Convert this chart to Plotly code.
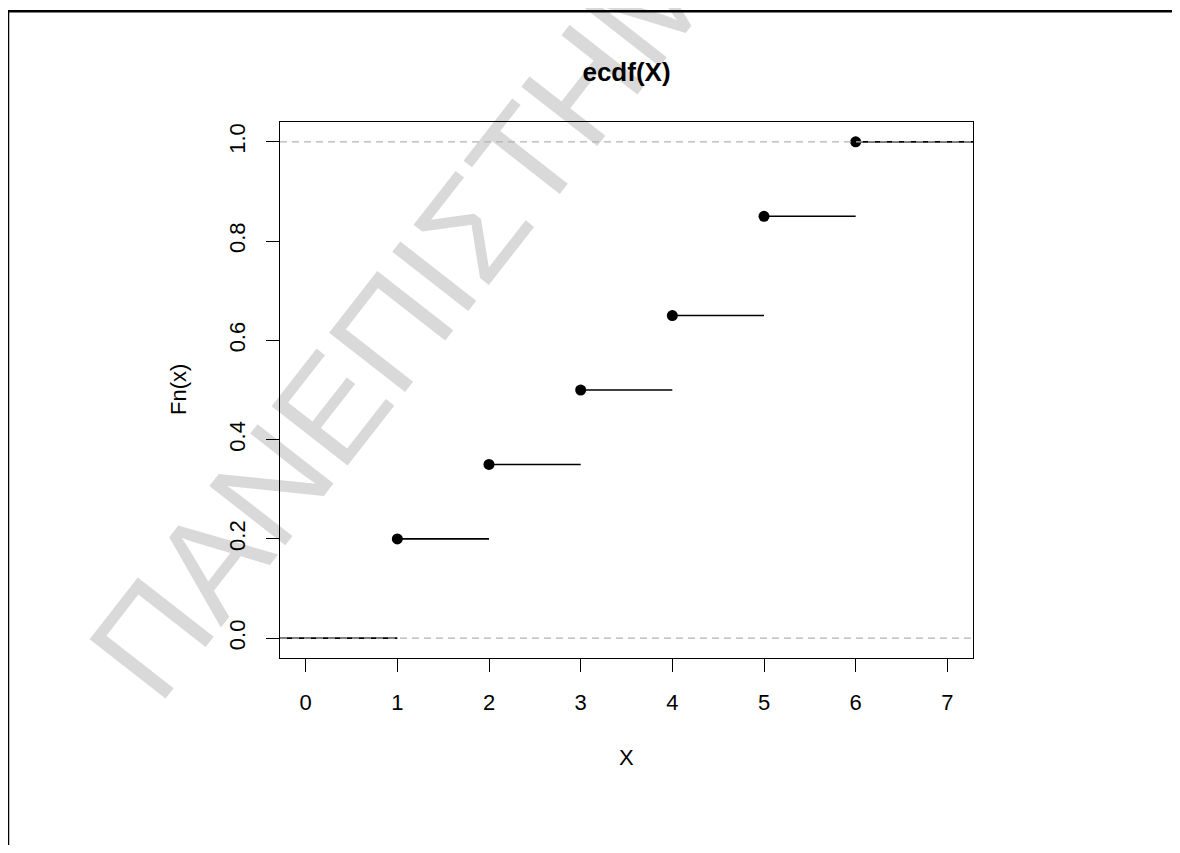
import numpy as np
import plotly.graph_objects as go

# ---- data ----
knots = [1, 2, 3, 4, 5, 6]
fn_values = [0.20, 0.35, 0.50, 0.65, 0.85, 1.00]
x_ticks = [0, 1, 2, 3, 4, 5, 6, 7]
y_ticks = [0.0, 0.2, 0.4, 0.6, 0.8, 1.0]
y_tick_labels = ["0.0", "0.2", "0.4", "0.6", "0.8", "1.0"]
title_text = "ecdf(X)"
x_label = "X"
y_label = "Fn(x)"
watermark_text = "ΠΑΝΕΠΙΣΤΗΜΙΟ ΠΕΙΡΑΙΩΣ"

# ---- R-like limits (plot.stepfun) ----
rx = [min(knots), max(knots)]
dr = max(0.08 * (rx[1] - rx[0]), float(np.median(np.diff(knots))))
xlim = [rx[0] - dr, rx[1] + dr]
ext = 0.04 * (xlim[1] - xlim[0])
xrange = [xlim[0] - ext, xlim[1] + ext]
yrange = [0 - 0.04, 1 + 0.04]

# step segments
ti = [xlim[0] - dr] + knots + [xlim[1] + dr]
yi = [0.0] + fn_values
seg_x, seg_y = [], []
for i in range(len(yi)):
    seg_x += [ti[i], ti[i + 1], None]
    seg_y += [yi[i], yi[i], None]

# page has an 8px body margin: figure is drawn offset by it
OFF = 8
W, H = 1180 - 2 * OFF, 853 - 2 * OFF
ML = 280 - OFF
MT = 122 - OFF
MR = W - (973 - OFF)
MB = H - (658 - OFF)
PW, PH = W - ML - MR, H - MT - MB

def px2paper(px, py):
    """screen pixel (reference coords) -> paper coords"""
    return (px - OFF - ML) / PW, (H - MB - (py - OFF)) / PH

FONT = "Liberation Sans, Arial, sans-serif"

fig = go.Figure()
fig.add_trace(go.Scatter(x=seg_x, y=seg_y, mode="lines",
                         line=dict(color="black", width=1.6),
                         hoverinfo="skip", showlegend=False))
fig.add_trace(go.Scatter(x=knots, y=fn_values, mode="markers",
                         marker=dict(color="black", size=11),
                         showlegend=False))

shapes = []
for yv in (0, 1):
    shapes.append(dict(type="line", xref="x domain", yref="y", x0=0, x1=1,
                       y0=yv, y1=yv, layer="above",
                       line=dict(color="#b3b3b3", width=1.3, dash="7px,5px")))

# outer frame (top and left edges visible)
fx0, fy_top = px2paper(8, 11.2)
_, fy_bot = px2paper(8, 900)
fx_right, _ = px2paper(1220, 0)
shapes.append(dict(type="path", xref="paper", yref="paper",
                   path=f"M {fx0},{fy_bot} L {fx0},{fy_top} L {fx_right},{fy_top}",
                   line=dict(color="black", width=2.5), layer="above"))

# watermark
ang = np.deg2rad(52)
p0 = (172.0, 718.0)
p1 = (p0[0] + 1000 * np.cos(ang), p0[1] - 1000 * np.sin(ang))
wx0, wy0 = px2paper(*p0)
wx1, wy1 = px2paper(*p1)
shapes.append(dict(type="line", xref="paper", yref="paper",
                   x0=wx0, y0=wy0, x1=wx1, y1=wy1, layer="below",
                   line=dict(color="rgba(0,0,0,0)", width=0),
                   label=dict(text=watermark_text,
                              textposition="start", padding=0,
                              font=dict(family=FONT, size=140, color="#d9d9d9"))))

annotations = [
    dict(text=x_label, xref="paper", yref="paper", x=0.5,
         y=px2paper(0, 757)[1], xanchor="center", yanchor="middle",
         showarrow=False, font=dict(family=FONT, size=22, color="black")),
    dict(text=y_label, xref="paper", yref="paper", x=px2paper(178, 0)[0],
         y=0.5, xanchor="center", yanchor="middle", textangle=-90,
         showarrow=False, font=dict(family=FONT, size=22, color="black")),
]

axis_common = dict(showline=True, mirror=True, linecolor="black", linewidth=1.3,
                   ticks="outside", ticklen=13, tickwidth=1.3, tickcolor="black",
                   showgrid=False, zeroline=False,
                   tickfont=dict(family=FONT, size=22, color="black"))

fig.update_layout(
    width=W, height=H,
    margin=dict(l=ML, r=MR, t=MT, b=MB, autoexpand=False),
    paper_bgcolor="white", plot_bgcolor="rgba(0,0,0,0)",
    title=dict(text=title_text, xref="paper", x=0.5, yref="container",
               y=1 - (72 - OFF) / H, xanchor="center", yanchor="middle",
               font=dict(family=FONT, size=26, color="black", weight="bold")),
    xaxis=dict(range=xrange, tickvals=x_ticks, ticktext=[str(v) for v in x_ticks],
               ticklabelstandoff=11, **axis_common),
    yaxis=dict(range=yrange, tickvals=y_ticks, ticktext=y_tick_labels,
               tickangle=-90, ticklabelstandoff=12, **axis_common),
    shapes=shapes, annotations=annotations, showlegend=False,
)

fig.write_html("out.html")
